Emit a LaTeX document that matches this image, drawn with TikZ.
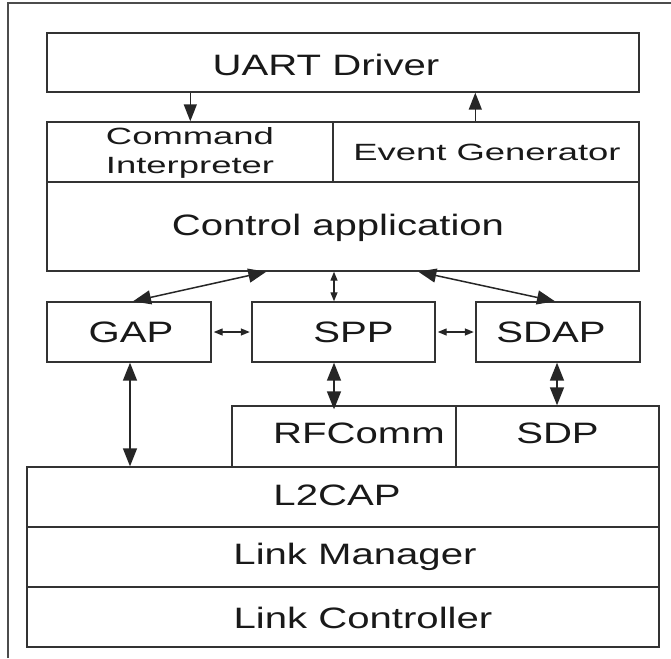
\documentclass[tikz,border=0pt]{standalone}
\usepackage{fontspec}
\usetikzlibrary{arrows.meta}
\newfontfamily\bigf{Liberation Sans}[FakeStretch=1.36]
\newfontfamily\smallf{Liberation Sans}[FakeStretch=1.55]
\begin{document}
\begin{tikzpicture}[x=1pt,y=-1pt,
  box/.style={draw=black!80, line width=1.4pt, inner sep=0pt, rectangle},
  txt/.style={font=\bigf\fontsize{29.5}{31}\selectfont, text=black!90, inner sep=0pt},
  stxt/.style={font=\smallf\fontsize{23.5}{29.5}\selectfont, text=black!90, align=center, inner sep=0pt},
  big/.style={draw=black!85, line width=1.5pt, {Triangle[length=18pt,width=14pt]}-{Triangle[length=18pt,width=14pt]}},
  one/.style={draw=black!85, line width=1.5pt, -{Triangle[length=17pt,width=13pt]}},
  small/.style={draw=black!85, line width=1.3pt, {Triangle[length=9pt,width=7pt]}-{Triangle[length=9pt,width=7pt]}}
]
\useasboundingbox (0,0) rectangle (671,658);
% outer frame
\draw[black!70, line width=2pt] (8,658) -- (8,3) -- (671,3);

% boxes
\node[box, minimum width=592pt, minimum height=59pt, label={[txt,xshift=-17pt,yshift=-2pt]center:UART Driver}] (uart) at (343,62.5) {};
\node[box, minimum width=286pt, minimum height=60pt] (cmd) at (190,152) {};
\node[stxt] (cmdt) at (190,153) {Command\\Interpreter};
\node[box, minimum width=306pt, minimum height=60pt, label={[stxt,xshift=1pt]center:Event Generator}] (evt) at (486,152) {};
\node[box, minimum width=592pt, minimum height=89pt, label={[txt,xshift=-5pt,yshift=-1.5pt]center:Control application}] (ctrl) at (343,226.5) {};

\node[box, minimum width=164pt, minimum height=60pt, label={[txt,xshift=2pt]center:GAP}] (gap) at (129,332) {};
\node[box, minimum width=183pt, minimum height=60pt, label={[txt,xshift=10pt]center:SPP}] (spp) at (343.5,332) {};
\node[box, minimum width=164pt, minimum height=60pt, label={[txt,xshift=-7pt]center:SDAP}] (sdap) at (558,332) {};

\node[box, minimum width=224pt, minimum height=61pt, label={[txt,xshift=15pt,yshift=3pt]center:RFComm}] (rfc) at (344,436.5) {};
\node[box, minimum width=203pt, minimum height=61pt, label={[txt,yshift=3pt]center:SDP}] (sdp) at (557.5,436.5) {};

\node[box, minimum width=632pt, minimum height=60pt, label={[txt,xshift=-6pt,yshift=2pt]center:L2CAP}] (l2cap) at (343,497) {};
\node[box, minimum width=632pt, minimum height=60pt, label={[txt,xshift=12pt]center:Link Manager}] (lm) at (343,557) {};
\node[box, minimum width=632pt, minimum height=60pt, label={[txt,xshift=20pt,yshift=-1pt]center:Link Controller}] (lc) at (343,617) {};

% connectors
\coordinate (uA) at ([xshift=144pt]uart.south west);
\draw[one] (uA) -- (uA |- cmd.north);
\coordinate (eA) at ([xshift=143pt]evt.north west);
\draw[one] (eA) -- (eA |- uart.south);

\coordinate (gT) at ([xshift=4pt]gap.north);
\coordinate (cG) at ([xshift=220pt]ctrl.south west);
\draw[big] (gT) -- (cG);
\coordinate (sT) at ([xshift=-9.5pt]spp.north);
\draw[small] (sT) -- (sT |- ctrl.south);
\coordinate (cS) at ([xshift=372pt]ctrl.south west);
\coordinate (dT) at ([xshift=-3pt]sdap.north);
\draw[big] (cS) -- (dT);

\draw[small] ([xshift=2pt]gap.east) -- ([xshift=-1.5pt]spp.west);
\draw[small] ([xshift=2pt]spp.east) -- ([xshift=-1.5pt]sdap.west);

\coordinate (sB) at ([xshift=-9.5pt]spp.south);
\draw[big] (sB) -- ([yshift=-4pt]sB |- rfc.north);
\coordinate (dB) at ([xshift=-1pt]sdap.south);
\draw[big] (dB) -- (dB |- sdp.north);
\coordinate (gB) at ([xshift=1pt]gap.south);
\draw[big] (gB) -- (gB |- l2cap.north);
\end{tikzpicture}
\end{document}
